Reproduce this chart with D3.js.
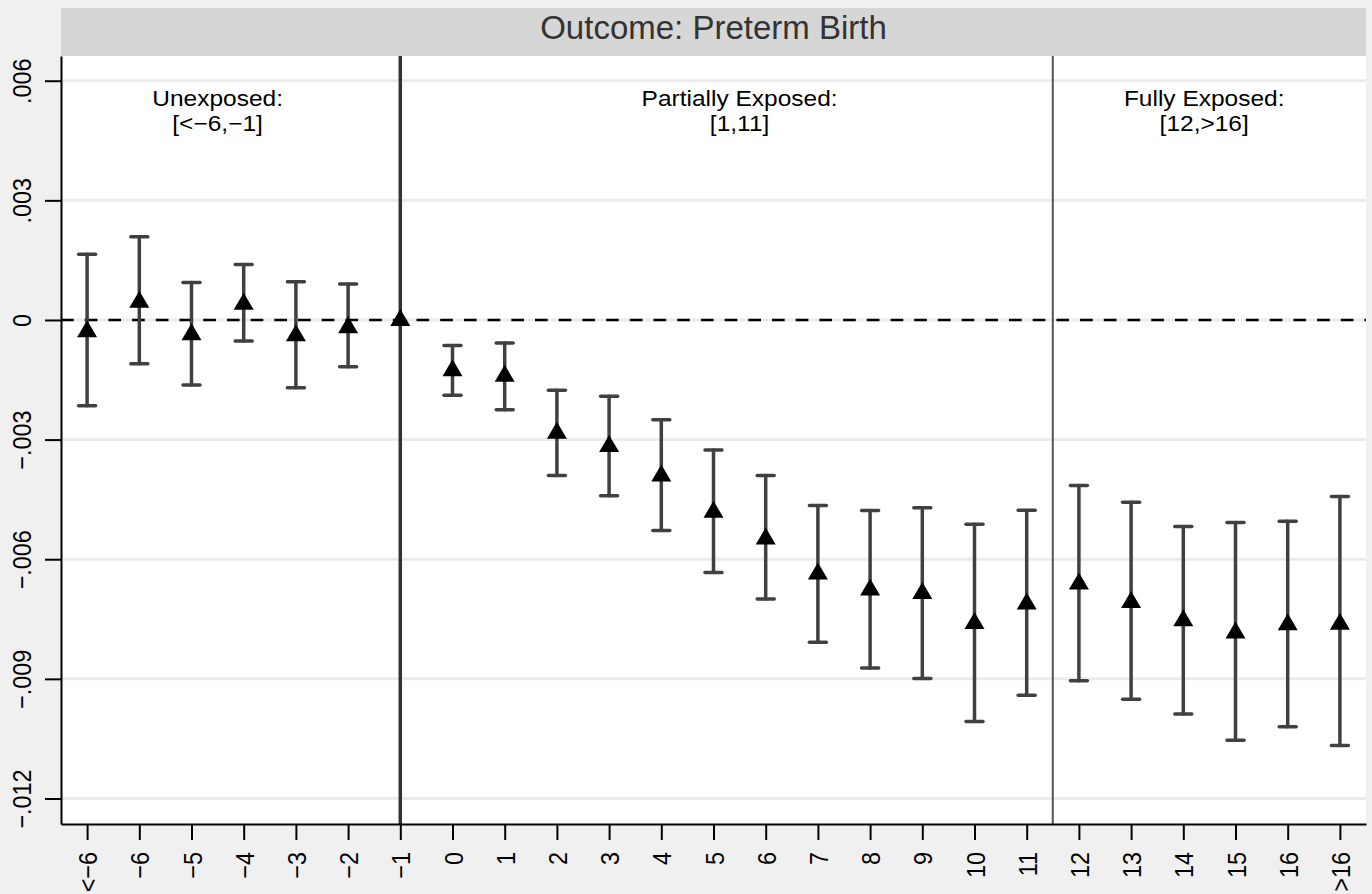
<!DOCTYPE html>
<html lang="en">
<head>
    <meta charset="UTF-8">
    <script src="https://d3js.org/d3.v7.min.js"></script>
    <title>Outcome: Preterm Birth</title>
    <style>
    body {margin: 0; background: #f0f0f0;}
    svg text {font-family: "Liberation Sans", Arial, Helvetica, sans-serif;}
    </style>
</head>
<body>
    <svg id="chart"></svg>
    <script>

        // event time categories
        var cats = ["<\u22126", "\u22126", "\u22125", "\u22124", "\u22123", "\u22122", "\u22121",
                    "0", "1", "2", "3", "4", "5", "6", "7", "8", "9", "10", "11",
                    "12", "13", "14", "15", "16", ">16"];

        // point estimates and 95% CI
        var est = [-0.00028, 0.00046, -0.00036, 0.00041, -0.00038, -0.00018, 0,
                   -0.00126, -0.00140, -0.00283, -0.00316, -0.00390, -0.00481, -0.00548,
                   -0.00636, -0.00676, -0.00685, -0.00760, -0.00711,
                   -0.00661, -0.00707, -0.00753, -0.00784, -0.00763, -0.00762];
        var lo = [-0.00215, -0.00110, -0.00163, -0.00053, -0.00170, -0.00117, null,
                  -0.00189, -0.00225, -0.00390, -0.00441, -0.00528, -0.00633, -0.00700,
                  -0.00808, -0.00873, -0.00899, -0.01007, -0.00941,
                  -0.00905, -0.00951, -0.00988, -0.01054, -0.01020, -0.01067];
        var hi = [0.00165, 0.00209, 0.00094, 0.00139, 0.00096, 0.00090, null,
                  -0.00064, -0.00058, -0.00176, -0.00191, -0.00250, -0.00326, -0.00390,
                  -0.00465, -0.00478, -0.00471, -0.00512, -0.00477,
                  -0.00415, -0.00457, -0.00518, -0.00508, -0.00505, -0.00443];

        var yTicks = [0.006, 0.003, 0, -0.003, -0.006, -0.009, -0.012];
        var yTickLabels = [".006", ".003", "0", "\u2212.003", "\u2212.006", "\u2212.009", "\u2212.012"];

        // period annotations (position in category units)
        var periodTitles = ["Unexposed:", "Partially Exposed:", "Fully Exposed:"];
        var periodRanges = ["[<\u22126,\u22121]", "[1,11]", "[12,>16]"];
        var periodPos = [2.5, 12.5, 21.4];
        // vertical reference lines (category units)
        var vLines = [6, 18.5];

        var title = "Outcome: Preterm Birth";

        var W = 1372, H = 894;
        var pLeft = 61, pRight = 1366, pTop = 56, pBottom = 824;

        var svg = d3.select("#chart")
            .attr("width", W)
            .attr("height", H);

        svg.append("rect")
            .attr("width", W).attr("height", H)
            .attr("fill", "#f0f0f0");

        var x = d3.scalePoint().domain(cats).range([pLeft, pRight]).padding(0.5);
        var step = x.step();
        var xi = function(i) { return x(cats[0]) + i * step; };
        var y = d3.scaleLinear().domain([-0.01264, 0.00662]).range([pBottom, pTop]);

        // title bar
        svg.append("rect")
            .attr("x", pLeft).attr("y", 8)
            .attr("width", pRight - pLeft).attr("height", pTop - 8)
            .attr("fill", "#d6d6d6");
        svg.append("text")
            .attr("x", (pLeft + pRight) / 2).attr("y", 39)
            .attr("text-anchor", "middle")
            .attr("font-size", 33)
            .attr("fill", "#333")
            .text(title);

        // plot region
        svg.append("rect")
            .attr("x", pLeft).attr("y", pTop)
            .attr("width", pRight - pLeft).attr("height", pBottom - pTop)
            .attr("fill", "#fff");

        // grid
        svg.append("g").selectAll("line").data(yTicks).enter()
            .append("line")
            .attr("x1", pLeft).attr("x2", pRight)
            .attr("y1", function(d) { return y(d); })
            .attr("y2", function(d) { return y(d); })
            .attr("stroke", "#ebebeb")
            .attr("stroke-width", 3);

        // zero line
        svg.append("line")
            .attr("x1", pLeft).attr("x2", pRight)
            .attr("y1", y(0)).attr("y2", y(0))
            .attr("stroke", "#000")
            .attr("stroke-width", 2.6)
            .attr("stroke-dasharray", "12.7,11");

        // vertical lines
        svg.append("g").selectAll("line").data(vLines).enter()
            .append("line")
            .attr("x1", function(d) { return xi(d); })
            .attr("x2", function(d) { return xi(d); })
            .attr("y1", pTop).attr("y2", pBottom)
            .attr("stroke", function(d, i) { return i == 0 ? "#333" : "#555"; })
            .attr("stroke-width", function(d, i) { return i == 0 ? 3.5 : 2; });

        // error bars
        var idx = d3.range(cats.length).filter(function(i) { return lo[i] !== null; });
        var bars = svg.append("g")
            .attr("stroke", "#404040")
            .attr("stroke-width", 3.5)
            .attr("stroke-linecap", "round");
        bars.selectAll(".ci").data(idx).enter()
            .append("line")
            .attr("x1", function(i) { return x(cats[i]); })
            .attr("x2", function(i) { return x(cats[i]); })
            .attr("y1", function(i) { return y(lo[i]); })
            .attr("y2", function(i) { return y(hi[i]); });
        bars.selectAll(".capLo").data(idx).enter()
            .append("line")
            .attr("x1", function(i) { return x(cats[i]) - 8.5; })
            .attr("x2", function(i) { return x(cats[i]) + 8.5; })
            .attr("y1", function(i) { return y(lo[i]); })
            .attr("y2", function(i) { return y(lo[i]); });
        bars.selectAll(".capHi").data(idx).enter()
            .append("line")
            .attr("x1", function(i) { return x(cats[i]) - 8.5; })
            .attr("x2", function(i) { return x(cats[i]) + 8.5; })
            .attr("y1", function(i) { return y(hi[i]); })
            .attr("y2", function(i) { return y(hi[i]); });

        // triangle markers
        svg.append("g").selectAll("path").data(est).enter()
            .append("path")
            .attr("transform", function(d, i) { return "translate(" + x(cats[i]) + "," + y(d) + ")"; })
            .attr("d", "M0,-11L10,6L-10,6Z")
            .attr("fill", "#000");

        // period labels
        var ann = svg.append("g").selectAll("g").data(periodTitles).enter()
            .append("g")
            .attr("transform", function(d, i) { return "translate(" + xi(periodPos[i]) + ",0)"; });
        ann.append("text")
            .attr("transform", "translate(0,105.5) scale(1,0.9)")
            .attr("text-anchor", "middle")
            .attr("font-size", 24.5)
            .text(function(d) { return d; });
        ann.append("text")
            .attr("transform", "translate(0,130.5) scale(1,0.9)")
            .attr("text-anchor", "middle")
            .attr("font-size", 24.5)
            .text(function(d, i) { return periodRanges[i]; });

        // axes
        var yAxis = d3.axisLeft(y)
            .tickValues(yTicks)
            .tickFormat(function(d, i) { return yTickLabels[i]; })
            .tickSize(16)
            .tickSizeOuter(0);
        var gy = svg.append("g")
            .attr("transform", "translate(" + pLeft + ",0)")
            .call(yAxis);

        var xAxis = d3.axisBottom(x)
            .tickSize(16)
            .tickSizeOuter(0);
        var gx = svg.append("g")
            .attr("transform", "translate(0," + pBottom + ")")
            .call(xAxis);

        [gx, gy].forEach(function(g) {
            g.select(".domain").attr("stroke", "#000").attr("stroke-width", 2);
            g.selectAll(".tick line").attr("stroke", "#000").attr("stroke-width", 2);
            g.selectAll(".tick text")
                .attr("fill", "#000")
                .attr("font-size", 26)
                .attr("font-family", "Liberation Sans, Arial, sans-serif");
        });

        gy.selectAll(".tick text")
            .attr("x", 0).attr("y", 0).attr("dy", 0)
            .attr("text-anchor", "middle")
            .attr("transform", "translate(-30.5,0) scale(1,0.9) rotate(-90)");

        gx.selectAll(".tick text")
            .attr("x", 0).attr("y", 0).attr("dy", 0)
            .attr("text-anchor", "end")
            .attr("transform", "translate(9.5,28) scale(1,0.9) rotate(-90)");

    </script>
</body>
</html>
